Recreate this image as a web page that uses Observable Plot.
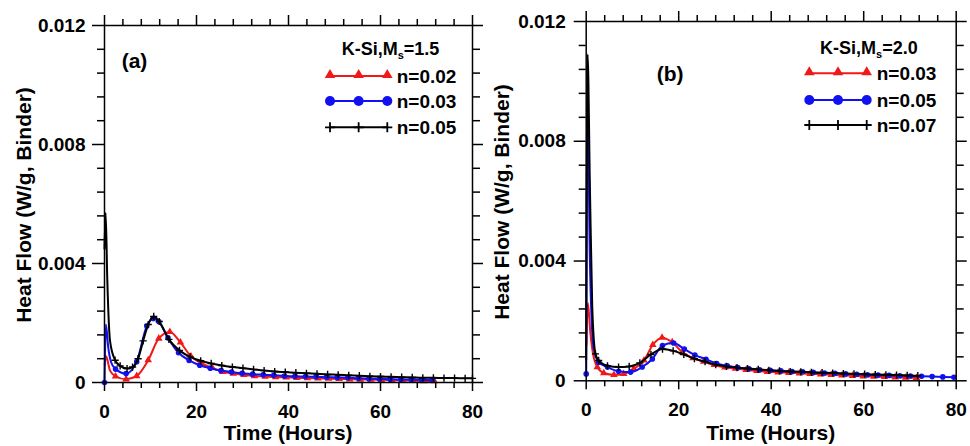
<!DOCTYPE html>
<html><head><meta charset="utf-8">
<script src="https://cdn.jsdelivr.net/npm/d3@7"></script>
<script src="https://cdn.jsdelivr.net/npm/@observablehq/plot@0.6"></script>
<style>
body{margin:0;background:#fff;}
#wrap{display:flex;width:970px;height:446px;overflow:hidden;}
</style></head><body><div id="wrap"></div>
<script>
const FONT = "'Liberation Sans', Arial, Helvetica, sans-serif";

// ---------- Panel (a): K-Si, Ms = 1.5 ----------
const a_red_t = [0.05,0.35,1.2,2.4,4.7,7.0,9.5,11.8,14.2,16.5,18.8,21.1,23.4,25.7,28,30.3,32.6,34.9,37.2,39.5,41.8,44.1,46.4,48.7,51,53.3,55.6,57.9,60.2,62.5,64.8,67.1,69.4,71.7];
const a_red_v = [0.0006,0.00088,0.0004,0.00021,0.00011,0.00022,0.00075,0.00148,0.0017,0.00135,0.00088,0.00064,0.0005,0.00036,0.0003,0.00026,0.00022,0.0002,0.00018,0.00017,0.00016,0.00015,0.00014,0.00013,0.00012,0.00011,0.0001,0.0001,0.00009,0.00008,0.00007,0.00006,0.00005,0.00005];

const a_blue_t = [0,0.3,0.8,1.4,2.4,4.7,7.0,9.2,10.6,11.8,13.8,16.1,18.4,20.7,23,25.3,27.6,29.9,32.2,34.5,36.8,39.1,41.4,43.7,46,48.3,50.6,52.9,55.2,57.5,59.8,62.1,64.4,66.7,69,71.3];
const a_blue_v = [0,0.00195,0.0012,0.0007,0.00045,0.0003,0.0007,0.0019,0.00215,0.00205,0.0015,0.001,0.00074,0.00058,0.00048,0.0004,0.00035,0.00031,0.00028,0.00026,0.00024,0.00022,0.00021,0.0002,0.00019,0.00018,0.00017,0.00016,0.00014,0.00013,0.00012,0.00011,0.0001,0.0001,0.00009,0.00008];

const a_black_t = [0,0.25,0.6,1.2,2.3,3.4,4.9,6.1,7.3,8.4,9.5,10.7,11.9,14.0,16.3,18.6,20.9,23.2,25.5,27.8,30.1,32.4,34.7,37,39.3,41.6,43.9,46.2,48.5,50.8,53.1,55.4,57.7,60,62.3,64.6,66.9,69.2,71.5,73.8,76.1,78.4,80];
const a_black_v = [0.0045,0.0057,0.0035,0.0014,0.00075,0.00056,0.00047,0.00052,0.0008,0.0014,0.00195,0.00222,0.00205,0.00145,0.00108,0.00086,0.00073,0.00064,0.00057,0.00052,0.00048,0.00044,0.0004,0.00037,0.00035,0.00033,0.00031,0.00029,0.00027,0.00026,0.00024,0.00023,0.00021,0.0002,0.00019,0.00018,0.00017,0.00016,0.00016,0.00015,0.00015,0.00014,0.00014];

// ---------- Panel (b): K-Si, Ms = 2.0 ----------
const b_red_t = [0.05,0.35,0.9,1.6,2.4,3.8,6.0,8.1,10.3,12.5,14.4,16.4,18.6,20.8,23.1,25.4,27.7,30,32.3,34.6,36.9,39.2,41.5,43.8,46.1,48.4,50.7,53,55.3,57.6,59.9,62.2,64.5,66.8,69.1,71.4];
const b_red_v = [0.0012,0.0026,0.0016,0.0008,0.00046,0.00026,0.0002,0.00023,0.0004,0.00068,0.0012,0.00144,0.00129,0.00095,0.00076,0.00064,0.00053,0.00045,0.00041,0.00037,0.00033,0.0003,0.00028,0.00027,0.00025,0.00023,0.00022,0.0002,0.00018,0.00017,0.00015,0.00014,0.00013,0.00012,0.00011,0.0001];

const b_blue_t = [0,0.3,0.8,1.6,2.7,4.6,7.0,9.6,12.1,14.3,16.5,18.9,21.2,23.5,25.9,28.2,30.5,32.8,35.2,37.5,39.8,42.1,44.5,46.8,49.1,51.5,53.8,56.1,58.5,60.8,63.1,65.5,67.8,70.1,72.5,74.8,77.1,79.5];
const b_blue_v = [0.00023,0.0095,0.004,0.0011,0.00062,0.00046,0.00032,0.00029,0.00046,0.00073,0.00118,0.00126,0.00106,0.00086,0.00072,0.00058,0.0005,0.00044,0.0004,0.00037,0.00035,0.00033,0.00031,0.0003,0.00028,0.00026,0.00025,0.00023,0.00022,0.0002,0.00019,0.00018,0.00017,0.00016,0.00015,0.00014,0.00013,0.00012];

const b_black_t = [0,0.3,0.8,1.3,2.0,2.7,4.6,7.0,9.3,11.6,14.0,16.5,18.8,21.1,23.4,25.7,28.0,30.3,32.6,34.9,37.2,39.5,41.8,44.1,46.4,48.7,51,53.3,55.6,57.9,60.2,62.5,64.8,67.1,69.4,71.7];
const b_black_v = [0.0007,0.0109,0.0065,0.0025,0.0009,0.00068,0.0005,0.00046,0.00048,0.0006,0.00088,0.00106,0.001,0.00088,0.00074,0.00064,0.00054,0.00048,0.00044,0.00041,0.00038,0.00035,0.00033,0.00031,0.0003,0.00028,0.00027,0.00026,0.00024,0.00023,0.00022,0.00021,0.0002,0.00019,0.00018,0.00017];

// ---------- Ticks & labels ----------
const majorX = [0, 20, 40, 60, 80];
const minorX = [4, 8, 12, 16, 24, 28, 32, 36, 44, 48, 52, 56, 64, 68, 72, 76];
const majorY = [0, 0.004, 0.008, 0.012];
const majorYLabels = ["0", "0.004", "0.008", "0.012"];
const minorY = [0.0008, 0.0016, 0.0024, 0.0032, 0.0048, 0.0056, 0.0064, 0.0072, 0.0088, 0.0096, 0.0104, 0.0112];

const legendA = ["n=0.02", "n=0.03", "n=0.05"];
const legendB = ["n=0.03", "n=0.05", "n=0.07"];

const RED = "#f01818", BLUE = "#1010f0", BLACK = "#000000";
const plusSymbol = { draw(ctx, size) { const r = Math.sqrt(size / Math.PI); ctx.moveTo(-r, 0); ctx.lineTo(r, 0); ctx.moveTo(0, -r); ctx.lineTo(0, r); } };

const styles = [
  {color: RED, kind: "triangle"},
  {color: BLUE, kind: "circle"},
  {color: BLACK, kind: "plus"}
];

function seriesMarks(t, v, st) {
  const data = t.map((x, i) => ({t: x, v: v[i]}));
  const marks = [Plot.line(data, {x: "t", y: "v", stroke: st.color, strokeWidth: 2, curve: "monotone-x"})];
  const md = data.filter(d => d.t >= 2 || (d.t === 0 && d.v < 0.0005));
  if (st.kind === "triangle") marks.push(Plot.dot(md, {x: "t", y: "v", symbol: "triangle", r: 2.8, fill: st.color, stroke: "none"}));
  else if (st.kind === "circle") marks.push(Plot.dot(md, {x: "t", y: "v", symbol: "circle", r: 2.8, fill: st.color, stroke: "none"}));
  else marks.push(Plot.dot(md, {x: "t", y: "v", symbol: plusSymbol, r: 3.6, fill: "none", stroke: st.color, strokeWidth: 1.4}));
  return marks;
}

function panel(cfg) {
  const marks = [];
  cfg.series.forEach((s, i) => marks.push(...seriesMarks(s[0], s[1], styles[i])));
  const tf = d => majorYLabels[majorY.indexOf(d)];
  const txt = {fontSize: 19, fontWeight: "bold", fontFamily: FONT};
  marks.push(
    Plot.frame({stroke: "black", strokeWidth: 1.5}),
    Plot.axisX(majorX, {anchor: "bottom", tickSize: 9, tickPadding: 13, tickFormat: d => String(d), strokeWidth: 1.5, ...txt}),
    Plot.axisX(minorX, {anchor: "bottom", tickSize: 6, tickFormat: () => "", strokeWidth: 1.5}),
    Plot.axisX(majorX, {anchor: "top", tickSize: 11, tickFormat: () => "", strokeWidth: 1.5}),
    Plot.axisX(minorX, {anchor: "top", tickSize: 7, tickFormat: () => "", strokeWidth: 1.5}),
    Plot.axisY(majorY, {anchor: "left", tickSize: 12, tickPadding: cfg.yPad, tickFormat: tf, strokeWidth: 1.5, ...txt}),
    Plot.axisY(minorY, {anchor: "left", tickSize: 7, tickFormat: () => "", strokeWidth: 1.5}),
    Plot.axisY(majorY, {anchor: "right", tickSize: 10, tickFormat: () => "", strokeWidth: 1.5}),
    Plot.axisY(minorY, {anchor: "right", tickSize: 7, tickFormat: () => "", strokeWidth: 1.5})
  );
  const svg = Plot.plot({
    width: 485, height: 446,
    marginLeft: cfg.ml, marginRight: cfg.mr, marginTop: cfg.mt, marginBottom: cfg.mb,
    x: {domain: [0, 80], label: null},
    y: {domain: [0, 0.012], label: null},
    style: {fontFamily: FONT, fontWeight: "bold", color: "black", background: "white", overflow: "visible"},
    marks
  });
  const g = d3.select(svg).append("g").attr("font-family", FONT).attr("font-weight", "bold")
    .attr("fill", "black").attr("text-anchor", "start");
  // axis titles
  g.append("text").attr("transform", `translate(${cfg.yLab[0]},${cfg.yLab[1]}) rotate(-90)`)
    .attr("text-anchor", "middle").attr("dominant-baseline", "central").attr("font-size", 21)
    .text("Heat Flow (W/g, Binder)");
  g.append("text").attr("x", cfg.xLab[0]).attr("y", cfg.xLab[1]).attr("text-anchor", "middle")
    .attr("font-size", 21).text("Time (Hours)");
  // panel tag
  g.append("text").attr("x", cfg.tag[0]).attr("y", cfg.tag[1]).attr("font-size", 21).text(cfg.tagText);
  // legend title
  const tt = g.append("text").attr("x", cfg.title[0]).attr("y", cfg.title[1]).attr("font-size", 18);
  tt.append("tspan").text("K-Si,M");
  tt.append("tspan").attr("font-size", 11).attr("dy", 4).text("s");
  tt.append("tspan").attr("dy", -4).text("=" + cfg.titleVal);
  // legend entries
  cfg.rows.forEach((y, i) => {
    const st = styles[i];
    const x0 = cfg.lineX[0], x1 = cfg.lineX[1], xm = (x0 + x1) / 2;
    g.append("line").attr("x1", x0).attr("x2", x1).attr("y1", y).attr("y2", y)
      .attr("stroke", st.color).attr("stroke-width", 2);
    [x0, xm, x1].forEach(x => {
      if (st.kind === "triangle") {
        g.append("path").attr("d", d3.symbol(d3.symbolTriangle, 48)()).attr("transform", `translate(${x},${y - 1})`).attr("fill", st.color);
      } else if (st.kind === "circle") {
        g.append("circle").attr("cx", x).attr("cy", y).attr("r", 5).attr("fill", st.color);
      } else {
        g.append("path").attr("d", `M${x - 5},${y}H${x + 5}M${x},${y - 5}V${y + 5}`).attr("stroke", st.color).attr("stroke-width", 1.8);
      }
    });
    g.append("text").attr("x", cfg.textX).attr("y", y + 7).attr("font-size", 19).text(cfg.labels[i]);
  });
  return svg;
}

const wrap = document.getElementById("wrap");
wrap.appendChild(panel({
  ml: 104, mr: 13, mt: 25, mb: 64, yPad: 7,
  series: [[a_red_t, a_red_v], [a_blue_t, a_blue_v], [a_black_t, a_black_v]],
  yLab: [23, 205], xLab: [288, 440], tag: [121.7, 67.6], tagText: "(a)",
  title: [341.7, 55], titleVal: "1.5",
  rows: [76, 101, 127.3], lineX: [330, 387.3], textX: 396.7, labels: legendA
}));
wrap.appendChild(panel({
  ml: 100.7, mr: 14.3, mt: 21, mb: 65.7, yPad: 8.5,
  series: [[b_red_t, b_red_v], [b_blue_t, b_blue_v], [b_black_t, b_black_v]],
  yLab: [16.5, 202], xLab: [285.7, 440], tag: [171.7, 80.6], tagText: "(b)",
  title: [335, 54], titleVal: "2.0",
  rows: [73.3, 100, 125], lineX: [324.3, 381.7], textX: 391.7, labels: legendB
}));
</script></body></html>
